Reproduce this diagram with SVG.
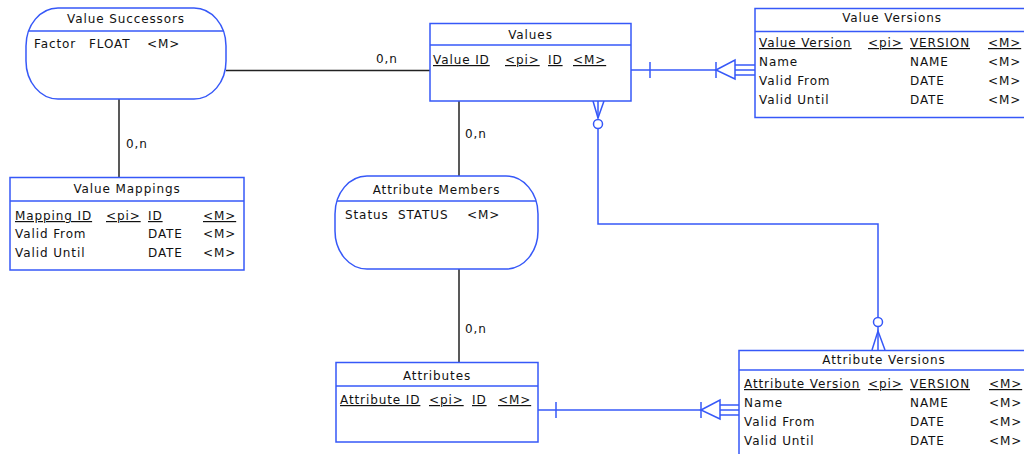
<svg xmlns="http://www.w3.org/2000/svg" width="1024" height="454" viewBox="0 0 1024 454">
<style>
.box{fill:#fff;stroke:#3658f8;stroke-width:1.5}
.hdr{stroke:#3658f8;stroke-width:1.5}
.t{font-family:"DejaVu Sans",sans-serif;font-size:12px;letter-spacing:0.9px;fill:#111}
.c{text-anchor:middle}
.u{text-decoration:underline}
.assoc{stroke:#222;stroke-width:1.5;fill:none}
.rel{stroke:#3658f8;stroke-width:1.5;fill:none}
</style>
<rect width="1024" height="454" fill="#fff"/>
<g id="connectors">
  <line class="assoc" x1="226" y1="70.5" x2="430" y2="70.5"/>
  <text class="t" x="376" y="63">0,n</text>
  <line class="assoc" x1="119" y1="99" x2="119" y2="177"/>
  <text class="t" x="126" y="148">0,n</text>
  <line class="assoc" x1="459" y1="101" x2="459" y2="176"/>
  <text class="t" x="465" y="138">0,n</text>
  <line class="assoc" x1="459" y1="269" x2="459" y2="362"/>
  <text class="t" x="465" y="333">0,n</text>
  <!-- Values to Value Versions -->
  <line class="rel" x1="631" y1="70" x2="716" y2="70"/>
  <line class="rel" x1="650" y1="62" x2="650" y2="78"/>
  <line class="rel" x1="716" y1="62" x2="716" y2="78"/>
  <polygon class="rel" points="716,70 735,60 735,79"/>
  <line class="rel" x1="735" y1="65" x2="755" y2="65"/>
  <line class="rel" x1="735" y1="70" x2="755" y2="70"/>
  <line class="rel" x1="735" y1="75" x2="755" y2="75"/>
  <!-- Attributes to Attribute Versions -->
  <line class="rel" x1="538" y1="410" x2="701" y2="410"/>
  <line class="rel" x1="556" y1="402" x2="556" y2="418"/>
  <line class="rel" x1="701" y1="402" x2="701" y2="418"/>
  <polygon class="rel" points="701,410 720,400 720,419"/>
  <line class="rel" x1="720" y1="405" x2="739" y2="405"/>
  <line class="rel" x1="720" y1="410" x2="739" y2="410"/>
  <line class="rel" x1="720" y1="415" x2="739" y2="415"/>
  <!-- Values to Attribute Versions -->
  <polyline class="rel" points="593,101 598,118 604,101"/>
  <line class="rel" x1="598" y1="101" x2="598" y2="118"/>
  <circle class="rel" cx="598" cy="124" r="4.5"/>
  <polyline class="rel" points="598,128.5 598,224 878,224 878,317.5"/>
  <circle class="rel" cx="878" cy="322" r="4.5"/>
  <polyline class="rel" points="872,350 878,331 885,350"/>
  <line class="rel" x1="878" y1="326.5" x2="878" y2="350"/>
</g>
<g id="value-successors">
  <rect class="box" x="26" y="8" width="200" height="91" rx="32" ry="38"/>
  <line class="hdr" x1="28.6" y1="31" x2="223.4" y2="31"/>
  <text class="t c" x="126" y="22.5">Value Successors</text>
  <text class="t" x="34" y="48">Factor</text>
  <text class="t" x="89" y="48">FLOAT</text>
  <text class="t" x="147" y="48">&lt;M&gt;</text>
</g>
<g id="values">
  <rect class="box" x="430" y="23.5" width="201" height="77.5"/>
  <line class="hdr" x1="430" y1="45" x2="631" y2="45"/>
  <text class="t c" x="530.5" y="39">Values</text>
  <text class="t u" x="433" y="64">Value ID</text>
  <text class="t u" x="505" y="64">&lt;pi&gt;</text>
  <text class="t u" x="548" y="64">ID</text>
  <text class="t u" x="573" y="64">&lt;M&gt;</text>
</g>
<g id="value-versions">
  <rect class="box" x="755" y="8.5" width="274" height="109"/>
  <line class="hdr" x1="755" y1="31.5" x2="1029" y2="31.5"/>
  <text class="t c" x="892" y="21.5">Value Versions</text>
  <text class="t u" x="759" y="47">Value Version</text>
  <text class="t u" x="868" y="47">&lt;pi&gt;</text>
  <text class="t u" x="910" y="47">VERSION</text>
  <text class="t u" x="988" y="47">&lt;M&gt;</text>
  <text class="t" x="759" y="66">Name</text>
  <text class="t" x="910" y="66">NAME</text>
  <text class="t" x="988" y="66">&lt;M&gt;</text>
  <text class="t" x="759" y="85">Valid From</text>
  <text class="t" x="910" y="85">DATE</text>
  <text class="t" x="988" y="85">&lt;M&gt;</text>
  <text class="t" x="759" y="104">Valid Until</text>
  <text class="t" x="910" y="104">DATE</text>
  <text class="t" x="988" y="104">&lt;M&gt;</text>
</g>
<g id="value-mappings">
  <rect class="box" x="10" y="177.5" width="234" height="92.5"/>
  <line class="hdr" x1="10" y1="201" x2="244" y2="201"/>
  <text class="t c" x="127" y="193">Value Mappings</text>
  <text class="t u" x="15" y="220">Mapping ID</text>
  <text class="t u" x="106" y="220">&lt;pi&gt;</text>
  <text class="t u" x="148" y="220">ID</text>
  <text class="t u" x="203" y="220">&lt;M&gt;</text>
  <text class="t" x="15" y="238">Valid From</text>
  <text class="t" x="148" y="238">DATE</text>
  <text class="t" x="203" y="238">&lt;M&gt;</text>
  <text class="t" x="15" y="257">Valid Until</text>
  <text class="t" x="148" y="257">DATE</text>
  <text class="t" x="203" y="257">&lt;M&gt;</text>
</g>
<g id="attribute-members">
  <rect class="box" x="335" y="176" width="203" height="93" rx="32" ry="38"/>
  <line class="hdr" x1="337" y1="201" x2="536" y2="201"/>
  <text class="t c" x="436.5" y="194">Attribute Members</text>
  <text class="t" x="345" y="219">Status</text>
  <text class="t" x="398" y="219">STATUS</text>
  <text class="t" x="467" y="219">&lt;M&gt;</text>
</g>
<g id="attributes">
  <rect class="box" x="336" y="362.5" width="202" height="79.5"/>
  <line class="hdr" x1="336" y1="386" x2="538" y2="386"/>
  <text class="t c" x="437" y="380">Attributes</text>
  <text class="t u" x="340" y="404">Attribute ID</text>
  <text class="t u" x="429" y="404">&lt;pi&gt;</text>
  <text class="t u" x="472" y="404">ID</text>
  <text class="t u" x="498" y="404">&lt;M&gt;</text>
</g>
<g id="attribute-versions">
  <rect class="box" x="739" y="350.5" width="292" height="110"/>
  <line class="hdr" x1="739" y1="370" x2="1031" y2="370"/>
  <text class="t c" x="884" y="364">Attribute Versions</text>
  <text class="t u" x="744" y="388">Attribute Version</text>
  <text class="t u" x="868" y="388">&lt;pi&gt;</text>
  <text class="t u" x="910" y="388">VERSION</text>
  <text class="t u" x="989" y="388">&lt;M&gt;</text>
  <text class="t" x="744" y="407">Name</text>
  <text class="t" x="910" y="407">NAME</text>
  <text class="t" x="989" y="407">&lt;M&gt;</text>
  <text class="t" x="744" y="426">Valid From</text>
  <text class="t" x="910" y="426">DATE</text>
  <text class="t" x="989" y="426">&lt;M&gt;</text>
  <text class="t" x="744" y="445">Valid Until</text>
  <text class="t" x="910" y="445">DATE</text>
  <text class="t" x="989" y="445">&lt;M&gt;</text>
</g>
</svg>
